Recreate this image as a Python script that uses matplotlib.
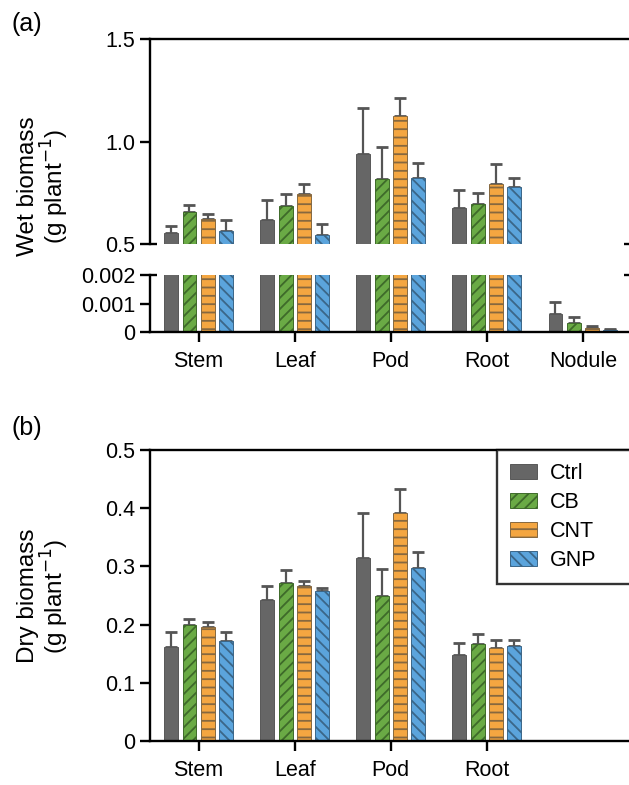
import numpy as np
import matplotlib.pyplot as plt

plt.rcParams['font.family'] = ['Liberation Sans', 'DejaVu Sans']
plt.rcParams['hatch.linewidth'] = 1.3

# organs and treatments
organs_wet = ['Stem', 'Leaf', 'Pod', 'Root', 'Nodule']
organs_dry = ['Stem', 'Leaf', 'Pod', 'Root']
treatments = ['Ctrl', 'CB', 'CNT', 'GNP']

# (a) wet biomass, g plant-1 (mean, upper error)
wet_ctrl = [0.552, 0.617, 0.939, 0.676, 0.00062]
wet_cb = [0.655, 0.685, 0.817, 0.695, 0.00033]
wet_cnt = [0.620, 0.745, 1.124, 0.794, 0.00015]
wet_gnp = [0.565, 0.544, 0.822, 0.778, 0.00008]
wet_ctrl_err = [0.037, 0.098, 0.223, 0.086, 0.00043]
wet_cb_err = [0.035, 0.057, 0.156, 0.054, 0.00021]
wet_cnt_err = [0.026, 0.048, 0.090, 0.096, 0.00006]
wet_gnp_err = [0.051, 0.054, 0.072, 0.045, 0.00001]

# (b) dry biomass, g plant-1
dry_ctrl = [0.162, 0.243, 0.315, 0.147]
dry_cb = [0.199, 0.272, 0.249, 0.166]
dry_cnt = [0.196, 0.266, 0.392, 0.159]
dry_gnp = [0.171, 0.258, 0.298, 0.163]
dry_ctrl_err = [0.025, 0.023, 0.077, 0.022]
dry_cb_err = [0.010, 0.021, 0.046, 0.018]
dry_cnt_err = [0.008, 0.009, 0.041, 0.014]
dry_gnp_err = [0.017, 0.005, 0.026, 0.011]

wet = [wet_ctrl, wet_cb, wet_cnt, wet_gnp]
wet_err = [wet_ctrl_err, wet_cb_err, wet_cnt_err, wet_gnp_err]
dry = [dry_ctrl, dry_cb, dry_cnt, dry_gnp]
dry_err = [dry_ctrl_err, dry_cb_err, dry_cnt_err, dry_gnp_err]

faces = ['#666666', '#6aaa45', '#f4a641', '#5ba4dc']
edges = ['#585858', '#3e6a2a', '#86683f', '#3b6688']
hatches = ['', '///', '--', '\\\\\\']
offsets = [-0.286, -0.095, 0.095, 0.286]
width = 0.145
fs = 15.5


def draw_bars(ax, values, errors, n):
    x = np.arange(n)
    for i in range(4):
        ax.bar(x + offsets[i], values[i], width, color=faces[i],
               edgecolor=edges[i], linewidth=0.7, hatch=hatches[i],
               label=treatments[i], zorder=2)
        ax.errorbar(x + offsets[i], values[i],
                    yerr=[np.zeros(n), errors[i]], fmt='none',
                    ecolor='#555555', elinewidth=1.6, capsize=4.5,
                    capthick=2, zorder=1)
    ax.set_xlim(-0.51, 4.5)


def style(ax):
    ax.spines['right'].set_visible(False)
    for s in ax.spines.values():
        s.set_linewidth(1.7)
    ax.tick_params(axis='both', labelsize=fs, width=1.7, length=7, pad=3.5)


fig = plt.figure(figsize=(6.29, 7.85), dpi=100)

left = 149.6 / 629
w = (631 - 149.6) / 629

# (a) broken axis
ax_top = fig.add_axes([left, 1 - 244 / 785, w, (244 - 39) / 785])
ax_bot = fig.add_axes([left, 1 - 332 / 785, w, (332 - 275) / 785])

draw_bars(ax_top, wet, wet_err, 5)
draw_bars(ax_bot, wet, wet_err, 5)

ax_top.set_ylim(0.5, 1.5)
ax_top.set_yticks([0.5, 1.0, 1.5])
ax_top.set_yticklabels(['0.5', '1.0', '1.5'])
ax_top.spines['bottom'].set_visible(False)
ax_top.set_xticks([])
style(ax_top)

ax_bot.set_ylim(0, 0.002)
ax_bot.set_yticks([0, 0.001, 0.002])
ax_bot.set_yticklabels(['0', '0.001', '0.002'])
ax_bot.spines['top'].set_visible(False)
ax_bot.set_xticks(np.arange(5))
ax_bot.set_xticklabels(organs_wet)
style(ax_bot)
ax_bot.tick_params(axis='x', pad=7)

# break marks
for ax, yv in [(ax_top, 0.5), (ax_bot, 0.002)]:
    tr = ax.get_yaxis_transform()
    ax.plot([0, 0.016], [yv, yv], color='black', lw=1.7, transform=tr,
            clip_on=False, solid_capstyle='butt')
    ax.plot([0.986, 1.0], [yv, yv], color='black', lw=1.7, transform=tr,
            clip_on=False, solid_capstyle='butt')

# (b)
ax_b = fig.add_axes([left, 1 - 741 / 785, w, (741 - 450) / 785])
draw_bars(ax_b, dry, dry_err, 4)
ax_b.set_ylim(0, 0.5)
ax_b.set_yticks([0, 0.1, 0.2, 0.3, 0.4, 0.5])
ax_b.set_yticklabels(['0', '0.1', '0.2', '0.3', '0.4', '0.5'])
ax_b.set_xticks(np.arange(4))
ax_b.set_xticklabels(organs_dry)
style(ax_b)
ax_b.tick_params(axis='x', pad=7)

leg = ax_b.legend(loc='upper left', bbox_to_anchor=(0.721, 0, 0.32, 1.0),
                  mode='expand', fontsize=fs, frameon=True, fancybox=False,
                  borderaxespad=0, borderpad=0.6, labelspacing=0.38,
                  handlelength=1.25, handleheight=0.7, handletextpad=0.6)
leg.get_frame().set_edgecolor('black')
leg.get_frame().set_linewidth(1.7)

# labels
fig.text(0.07, 1 - 186 / 785, 'Wet biomass\n(g plant$^{-1}$)', rotation=90,
         ha='center', va='center', fontsize=17.5, linespacing=1.0)
fig.text(0.07, 1 - 596 / 785, 'Dry biomass\n(g plant$^{-1}$)', rotation=90,
         ha='center', va='center', fontsize=17.5, linespacing=1.0)
fig.text(0.018, 1 - 24 / 785, '(a)', fontsize=18, va='center')
fig.text(0.018, 1 - 428 / 785, '(b)', fontsize=18, va='center')

plt.savefig('out.png', dpi=100)
